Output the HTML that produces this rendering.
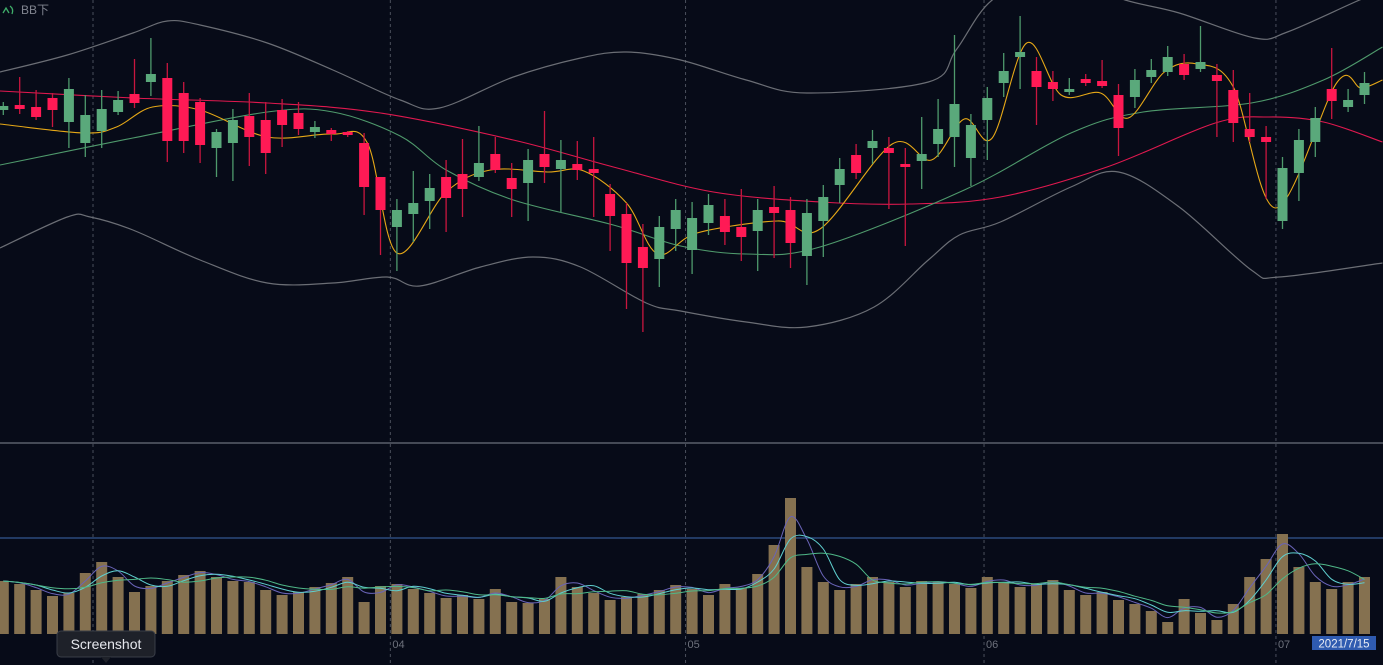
<!DOCTYPE html>
<html><head><meta charset="utf-8"><style>
html,body{margin:0;padding:0;background:#070b18;overflow:hidden}
svg{display:block;font-family:"Liberation Sans","Noto Sans CJK SC",sans-serif}
</style></head><body>
<svg id="chart" width="1383" height="665" viewBox="0 0 1383 665" xmlns="http://www.w3.org/2000/svg">
<rect width="1383" height="665" fill="#070b18"/>
<g id="grid"></g>
<g id="price"></g>
<g id="vol"></g>
<line x1="0" y1="443" x2="1383" y2="443" stroke="#5a5f6b" stroke-width="1.5"/>
<g>
<path d="M3 13 L6 8 L9 13 M10 6 Q14 9 12 14" stroke="#3fae6a" stroke-width="1.3" fill="none"/>
<text x="21" y="14" fill="#80848f" font-size="12">BB下</text>
</g>
<g id="xaxis"></g>
<g>
<rect x="1312" y="636" width="64" height="14" fill="#2f5bb0"/>
<text x="1344" y="647.5" fill="#e8ecf5" font-size="11.5" text-anchor="middle">2021/7/15</text>
</g>
<g>
<rect x="57" y="631" width="98" height="26" rx="4" fill="#1e2129" stroke="#3a3e48"/>
<path d="M101 657 L106 663 L111 657 Z" fill="#1e2129"/>
<text x="106" y="649" fill="#e6e8ee" font-size="14" text-anchor="middle">Screenshot</text>
</g>
</svg>
<script>
const opens=[39.0,39.5,39.3,40.2,37.8,35.7,36.9,38.8,40.6,41.8,42.2,40.7,39.8,35.2,35.7,38.4,38.0,39.0,38.7,36.8,37.0,36.8,35.7,32.3,27.3,28.6,29.9,32.3,32.6,32.3,34.6,32.2,31.7,34.6,33.1,33.6,33.1,30.6,28.6,25.3,24.1,27.1,25.0,27.7,28.4,27.3,26.9,29.3,29.0,24.4,27.9,31.5,34.5,35.2,35.2,33.6,33.9,35.6,36.3,34.2,38.0,41.7,44.3,42.9,41.8,40.8,42.1,41.9,40.5,40.3,42.3,42.8,43.6,43.1,42.5,41.0,37.1,36.3,27.9,32.7,35.8,41.1,39.3,40.5];
const highs=[39.8,42.3,41.0,40.7,42.2,40.5,41.0,40.9,44.1,46.2,43.7,41.8,40.2,37.1,39.1,40.7,39.8,40.1,39.8,37.9,37.2,36.9,36.7,32.3,30.1,32.9,32.6,34.0,36.1,37.4,36.3,33.7,35.1,38.9,36.0,35.9,36.3,31.6,29.7,27.6,28.4,30.1,29.8,30.6,30.1,31.1,30.1,31.4,30.3,30.1,31.5,34.2,35.6,37.0,36.3,35.2,38.3,40.1,46.5,38.6,41.3,44.7,48.4,44.3,42.9,42.2,42.6,44.0,41.6,43.1,44.1,45.4,44.6,47.4,43.6,43.0,40.7,37.4,34.3,37.1,39.3,45.2,41.1,42.8];
const lows=[38.5,38.6,38.0,37.3,35.2,34.3,35.2,38.5,39.2,40.4,33.8,34.7,33.7,32.3,31.9,33.4,32.6,35.3,36.5,36.2,35.9,36.3,28.5,24.5,22.9,25.8,27.1,26.8,28.3,31.9,32.7,28.3,27.9,31.7,28.8,32.0,28.3,24.9,19.1,16.8,21.3,24.9,22.6,26.5,25.5,23.9,22.9,24.2,23.2,21.5,24.3,29.7,32.1,33.6,29.1,25.4,31.1,34.3,33.3,31.4,34.0,40.3,41.1,37.5,39.9,40.5,41.4,41.2,34.4,39.2,41.7,42.4,42.0,42.8,36.3,35.8,35.8,30.1,27.1,29.9,34.3,38.1,38.8,39.6];
const closes=[39.4,39.1,38.3,39.0,41.1,38.5,39.1,40.0,39.7,42.6,35.9,35.9,35.5,36.8,38.0,36.3,34.7,37.5,37.1,37.3,36.6,36.5,31.3,29.0,29.0,29.7,31.2,30.2,31.1,33.7,33.0,31.1,34.0,33.3,34.0,33.0,32.7,28.4,23.7,23.2,27.3,29.0,28.2,29.5,26.8,26.3,29.0,28.7,25.7,28.7,30.3,33.1,32.7,35.9,34.7,33.3,34.6,37.1,39.6,37.5,40.2,42.9,44.8,41.3,41.1,41.1,41.7,41.4,37.2,42.0,43.0,44.3,42.5,43.8,41.9,37.7,36.3,35.8,33.2,36.0,38.2,39.9,40.0,41.7];
const volumes=[53,50,44,38,41,61,72,57,42,48,53,59,63,57,53,52,44,39,42,47,51,57,32,48,50,45,41,36,39,35,45,32,31,35,57,47,41,34,37,40,44,49,45,39,50,46,60,89,136,67,52,44,50,57,52,47,53,52,50,46,57,52,47,50,54,44,39,42,34,30,23,12,35,21,14,30,57,75,100,67,52,45,52,57];
const upperIdx=[-0.2,3.9,7.9,10,12,16.1,20.1,24.2,26.6,31.1,35.2,38,41.3,45.3,49,56.4,58.1,60.3,63.8,68.4,71.7,76.3,78.3,82.7,84.1];
const upperVal=[42.8,44.5,46.7,47.9,47.5,45.7,43.0,40.0,39.2,42.3,44.2,44.8,44.0,42.0,40.7,41.8,45.0,50.0,52.5,50.0,48.7,46.2,46.8,50.0,50.8];
const lowerIdx=[-0.2,3.9,5.3,7.9,12,16.1,20.1,23.4,25.4,29.1,32.3,35.2,39.2,41.3,45.3,49,53.1,56.4,58.3,60.8,65.1,68,71.7,76.1,77.8,84.1];
const lowerVal=[25.2,28.3,28.3,27.0,24.0,21.7,21.7,22.3,21.4,23.3,24.3,23.3,19.7,18.9,17.8,17.3,19.3,24.0,26.5,27.8,31.3,32.8,29.3,23.0,22.3,23.7];
const redIdx=[-0.2,7.9,16.1,23,31.1,37.2,43.3,49.8,55.3,60.8,67.3,73.9,77.2,80.5,84.1];
const redVal=[40.9,40.2,39.7,38.7,36.0,33.3,30.8,29.8,29.6,30.3,33.3,37.7,38.3,37.8,35.8];
const greenIdx=[-0.2,7.9,16.1,20.1,24.2,27,31.1,37.2,41.3,45.3,49.8,58.6,65.1,69.5,76.1,80.5,84.1];
const greenVal=[33.5,36.2,38.8,38.8,36.4,33.0,30.0,27.5,25.4,24.6,25.3,31.0,36.7,38.8,39.7,42.0,45.3];
const yellowIdx=[-0.2,4.9,6.9,9.1,12,16.1,20.1,22.2,24,27,29.7,33.2,35.4,38,39.9,42.3,47.2,49.8,54.2,56.6,58.6,60.3,62.4,64.5,66.9,68.6,70.8,72.8,75,77.6,81.3,82.8,84.1];
const yellowVal=[37.6,36.7,37.3,39.3,39.0,36.3,36.6,35.7,24.7,30.8,33.0,32.8,32.9,29.7,24.6,26.7,27.9,27.1,35.6,34.0,38.1,36.2,45.7,40.5,40.7,38.2,42.8,43.6,41.3,29.2,41.7,41.2,42.0];
const monthLabels=['04','05','06','07'];
const monthIdx=[23.6,41.6,59.8,77.6];
const volLevel=96;

const NS='http://www.w3.org/2000/svg';
const X0=3.3,STEP=16.4;
const xS=i=>X0+STEP*i;
const yP=p=>(50-p)*10;
const yV=v=>634-v;
function mk(tag,attrs,parent){const e=document.createElementNS(NS,tag);for(const k in attrs)e.setAttribute(k,attrs[k]);parent.appendChild(e);return e;}
function smooth(pts){let d='M'+pts[0][0].toFixed(1)+' '+pts[0][1].toFixed(1);
 for(let i=0;i<pts.length-1;i++){const p0=pts[i-1]||pts[i],p1=pts[i],p2=pts[i+1],p3=pts[i+2]||p2;
  const c1=[p1[0]+(p2[0]-p0[0])/6,p1[1]+(p2[1]-p0[1])/6],c2=[p2[0]-(p3[0]-p1[0])/6,p2[1]-(p3[1]-p1[1])/6];
  d+=' C'+c1[0].toFixed(1)+' '+c1[1].toFixed(1)+' '+c2[0].toFixed(1)+' '+c2[1].toFixed(1)+' '+p2[0].toFixed(1)+' '+p2[1].toFixed(1);}
 return d;}

const grid=document.getElementById('grid');
[93].concat(monthIdx.map(xS)).forEach(x=>{
 const l=mk('line',{x1:x,y1:0,x2:x,y2:665,stroke:'#4a4f5c','stroke-dasharray':'3,3','stroke-width':1},grid);
 
 
});
const xa=document.getElementById('xaxis');
monthLabels.forEach((m,k)=>{
 const t=mk('text',{x:xS(monthIdx[k])+2,y:648,fill:'#6d717c','font-size':11},xa);
 t.textContent=m;
 
 
});

const pr=document.getElementById('price');
mk('clipPath',{id:'pc'},pr).appendChild(document.createElementNS(NS,'rect'));
const cr=pr.querySelector('clipPath rect');cr.setAttribute('width',1383);cr.setAttribute('height',442);
const lineG=mk('g',{'clip-path':'url(#pc)'},pr);
function drawLine(idx,val,color,name,w){
 const p=mk('path',{d:smooth(idx.map((x,k)=>[xS(x),yP(val[k])])),stroke:color,'stroke-width':w,fill:'none'},lineG);
 
 
}
drawLine(upperIdx,upperVal,'#6b6e75','bb-upper-band',1.2);
drawLine(lowerIdx,lowerVal,'#6b6e75','bb-lower-band',1.2);
drawLine(redIdx,redVal,'#e0194f','ma-long-line',1.1);
drawLine(greenIdx,greenVal,'#4f9a6c','ma-mid-line',1.1);
const cg=mk('g',{},pr);
opens.forEach((o,i)=>{
 const c=closes[i],up=c>=o,col=up?'#5aa97b':'#ff1a55',x=xS(i);
 const w=mk('line',{x1:x,x2:x,y1:yP(highs[i]),y2:yP(lows[i]),stroke:up?'#4f9a6c':'#c8163f','stroke-width':1.3},cg);
 
 
 const top=yP(Math.max(o,c)),h=Math.max(2,Math.abs(yP(o)-yP(c)));
 const b=mk('rect',{x:x-5,y:top,width:10,height:h,fill:col},cg);
 
 
});
drawLine(yellowIdx,yellowVal,'#e6a817','ma-short-line',1.1);

const vg=document.getElementById('vol');
const lv=mk('line',{x1:0,x2:1383,y1:yV(volLevel),y2:yV(volLevel),stroke:'#2c4a7c','stroke-width':1.5},vg);


volumes.forEach((v,i)=>{
 const r=mk('rect',{x:xS(i)-5.5,y:yV(v),width:11,height:v,fill:'#857150'},vg);
 
 
});
function ma(n){return volumes.map((v,i)=>{let s=0,c=0;for(let k=Math.max(0,i-n+1);k<=i;k++){s+=volumes[k];c++;}return s/c;});}
const purple=volumes.map((v,i)=>0.6*v+0.4*(volumes[i-1]||v));
[[purple,'#6a64b8','volume-ma-fast'],[ma(3),'#5fcfcf','volume-ma-mid'],[ma(5),'#4fb888','volume-ma-slow']].forEach(([arr,col,name])=>{
 const p=mk('path',{d:smooth(arr.map((v,i)=>[xS(i),yV(v)])),stroke:col,'stroke-width':1,fill:'none'},vg);
 
 
});
</script>
</body></html>
